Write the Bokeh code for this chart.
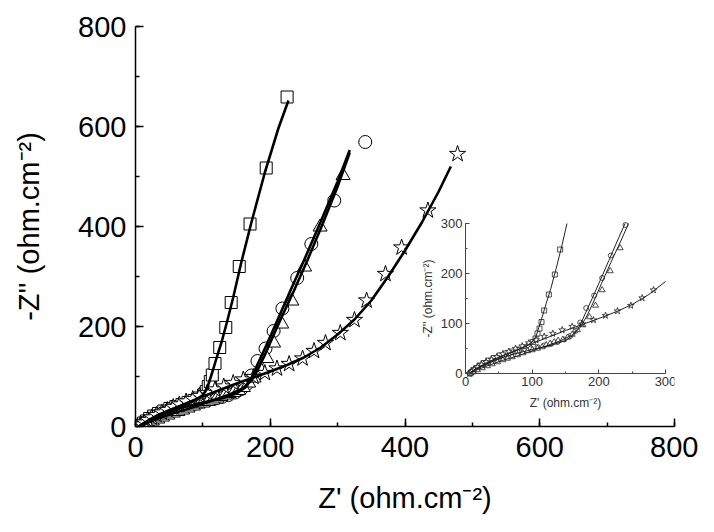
import numpy as np
from bokeh.plotting import figure
from bokeh.models import Range1d, LinearAxis, SingleIntervalTicker
from bokeh.embed import file_html
from bokeh.resources import INLINE

# ---------------- data (Z', -Z'') ----------------
sq_x = [7, 9, 12, 16, 21, 27, 34, 42, 51, 60, 69, 78, 87, 95, 101, 105, 108, 111, 114, 118, 125, 134, 142, 154, 170, 194, 225]
sq_y = [0, 3, 7, 11, 16, 21, 26, 31, 36, 40, 44, 48, 52, 57, 63, 70, 80, 90, 103, 126, 158, 198, 248, 320, 405, 517, 659]

ci_x = [7, 10, 14, 19, 25, 32, 40, 49, 58, 68, 78, 88, 98, 108, 118, 128, 138, 148, 157, 165, 172, 181, 193, 205, 218, 240, 261, 295, 341]
ci_y = [0, 3, 7, 11, 16, 21, 26, 31, 35, 39, 43, 46, 50, 53, 56, 59, 63, 68, 75, 85, 102, 131, 156, 191, 236, 297, 365, 452, 569]

tr_x = [7, 11, 18, 25, 33, 40, 48, 56, 63, 70, 78, 86, 93, 100, 108, 115, 121, 127, 133, 139, 146, 153, 160, 168, 176, 186, 195, 205, 217, 232, 251, 274, 308]
tr_y = [0, 3, 7, 11, 15, 19, 23, 27, 30, 33, 37, 41, 45, 47, 50, 53, 57, 60, 63, 66, 68, 72, 78, 87, 97, 113, 136, 167, 205, 251, 319, 399, 502]

st_x = [6, 9, 13, 18, 24, 31, 39, 47, 56, 65, 75, 85, 95, 106, 118, 131, 145, 160, 175, 192, 210, 228, 248, 265, 282, 304, 325, 343, 371, 395, 434, 478]
st_y = [0, 4, 8, 13, 18, 23, 28, 33, 39, 44, 50, 55, 61, 67, 74, 80, 87, 94, 99, 107, 116, 125, 136, 151, 167, 187, 213, 252, 305, 358, 432, 545]

# fitted curves
fit_sq_x = [5, 10, 20, 35, 55, 75, 90, 100, 106, 110, 115, 121, 128, 136, 145, 157, 172, 192, 212, 227]
fit_sq_y = [0, 5, 13, 24, 35, 45, 54, 63, 75, 92, 113, 140, 170, 210, 258, 328, 408, 508, 596, 652]

fit_ci_x = [6, 12, 25, 45, 70, 100, 130, 150, 163, 172, 180, 190, 202, 215, 230, 250, 275, 300, 318]
fit_ci_y = [0, 6, 15, 27, 38, 48, 57, 66, 78, 97, 121, 150, 186, 226, 272, 332, 410, 490, 553]

fit_tr_x = [6, 15, 30, 55, 80, 110, 140, 160, 172, 182, 192, 204, 218, 235, 255, 278, 300, 318]
fit_tr_y = [0, 6, 14, 26, 36, 50, 64, 77, 92, 115, 143, 180, 222, 271, 332, 406, 480, 548]

fit_st_x = [5, 15, 30, 50, 75, 100, 125, 150, 175, 200, 225, 250, 275, 300, 325, 350, 375, 400, 425, 450, 468]
fit_st_y = [0, 8, 19, 32, 46, 60, 73, 86, 98, 110, 123, 138, 158, 184, 214, 252, 300, 352, 408, 470, 520]

main_ticks_interval = 200
inset_ticks_interval = 100
inset_lim = 300

FONT = "Liberation Sans"


def clip_box(xs, ys, lim):
    """Clip a monotone polyline to the box [0, lim] x [0, lim]."""
    ox, oy = [], []
    for i, (x, y) in enumerate(zip(xs, ys)):
        if x <= lim and y <= lim:
            ox.append(x)
            oy.append(y)
        else:
            if i > 0:
                x0, y0 = xs[i - 1], ys[i - 1]
                t = 1.0
                if x > lim:
                    t = min(t, (lim - x0) / (x - x0))
                if y > lim:
                    t = min(t, (lim - y0) / (y - y0))
                ox.append(x0 + t * (x - x0))
                oy.append(y0 + t * (y - y0))
            break
    return ox, oy


def inside(xs, ys, lim):
    xs = np.asarray(xs, float)
    ys = np.asarray(ys, float)
    m = (xs <= lim) & (ys <= lim)
    return xs[m], ys[m]


p = figure(width=698, height=516, output_backend="svg", toolbar_location=None,
           x_range=Range1d(0, 800), y_range=Range1d(0, 800),
           x_axis_type=None, y_axis_type=None,
           min_border_left=135, min_border_right=24, min_border_top=26, min_border_bottom=90)
p.outline_line_color = None
p.background_fill_color = "white"
p.border_fill_color = "white"

# main axes
xa = LinearAxis(ticker=SingleIntervalTicker(interval=main_ticks_interval, num_minor_ticks=2),
                axis_label="Z' (ohm.cm⁻²)")
ya = LinearAxis(ticker=SingleIntervalTicker(interval=main_ticks_interval, num_minor_ticks=2),
                axis_label="-Z'' (ohm.cm⁻²)")
for ax in (xa, ya):
    ax.axis_line_width = 1.5
    ax.axis_line_color = "black"
    ax.major_tick_line_color = "black"
    ax.minor_tick_line_color = "black"
    ax.major_tick_line_width = 1.5
    ax.minor_tick_line_width = 1.5
    ax.major_tick_in = 8
    ax.major_tick_out = 0
    ax.minor_tick_in = 4
    ax.minor_tick_out = 0
    ax.major_label_text_font = FONT
    ax.major_label_text_font_size = "29px"
    ax.major_label_text_color = "black"
    ax.axis_label_text_font = FONT
    ax.axis_label_text_font_size = "29px"
    ax.axis_label_text_font_style = "normal"
    ax.axis_label_text_color = "black"
xa.major_label_standoff = 10
xa.axis_label_standoff = 22
ya.major_label_standoff = 9
ya.axis_label_standoff = 30
p.add_layout(xa, "below")
p.add_layout(ya, "left")

# inset coordinate system (same figure, extra ranges)
p.extra_x_ranges = {"ix": Range1d(-495, 313.5)}
p.extra_y_ranges = {"iy": Range1d(-106, 694)}

ixa = LinearAxis(x_range_name="ix", y_range_name="iy", fixed_location=0, bounds=(0, inset_lim),
                 ticker=SingleIntervalTicker(interval=inset_ticks_interval, num_minor_ticks=2),
                 axis_label="Z' (ohm.cm⁻²)")
iya = LinearAxis(x_range_name="ix", y_range_name="iy", fixed_location=0, bounds=(0, inset_lim),
                 ticker=SingleIntervalTicker(interval=inset_ticks_interval, num_minor_ticks=2),
                 axis_label="-Z'' (ohm.cm⁻²)")
for ax in (ixa, iya):
    ax.axis_line_width = 1
    ax.axis_line_color = "#444444"
    ax.major_tick_line_color = "#444444"
    ax.minor_tick_line_color = "#444444"
    ax.major_tick_in = 4
    ax.major_tick_out = 0
    ax.minor_tick_in = 2
    ax.minor_tick_out = 0
    ax.major_label_text_font = FONT
    ax.major_label_text_font_size = "13px"
    ax.major_label_text_color = "#333333"
    ax.axis_label_text_font = FONT
    ax.axis_label_text_font_size = "12px"
    ax.axis_label_text_font_style = "normal"
    ax.axis_label_text_color = "#333333"
ixa.major_label_standoff = 3
ixa.axis_label_standoff = 7
iya.major_label_standoff = 3
iya.axis_label_standoff = 3
p.add_layout(ixa, "below")
p.add_layout(iya, "left")

series = [
    (sq_x, sq_y, fit_sq_x, fit_sq_y, "square", 12, 5),
    (ci_x, ci_y, fit_ci_x, fit_ci_y, "circle", 13, 5),
    (tr_x, tr_y, fit_tr_x, fit_tr_y, "triangle", 14, 6),
    (st_x, st_y, fit_st_x, fit_st_y, "star", 17, 7),
]

# main markers
for xs, ys, fx, fy, mk, sz, isz in series:
    p.scatter(xs, ys, marker=mk, size=sz, fill_color="white", line_color="black", line_width=1)
# main fit lines
for xs, ys, fx, fy, mk, sz, isz in series:
    p.line(fx, fy, line_color="black", line_width=2.6)

# inset markers and lines
for xs, ys, fx, fy, mk, sz, isz in series:
    ix, iy = inside(xs, ys, inset_lim)
    p.scatter(ix, iy, marker=mk, size=isz, fill_color="white", line_color="#222222", line_width=0.8,
              x_range_name="ix", y_range_name="iy")
for xs, ys, fx, fy, mk, sz, isz in series:
    cx, cy = clip_box(fx, fy, inset_lim)
    p.line(cx, cy, line_color="#222222", line_width=1, x_range_name="ix", y_range_name="iy")

open("out.html", "w").write(file_html(p, INLINE))
